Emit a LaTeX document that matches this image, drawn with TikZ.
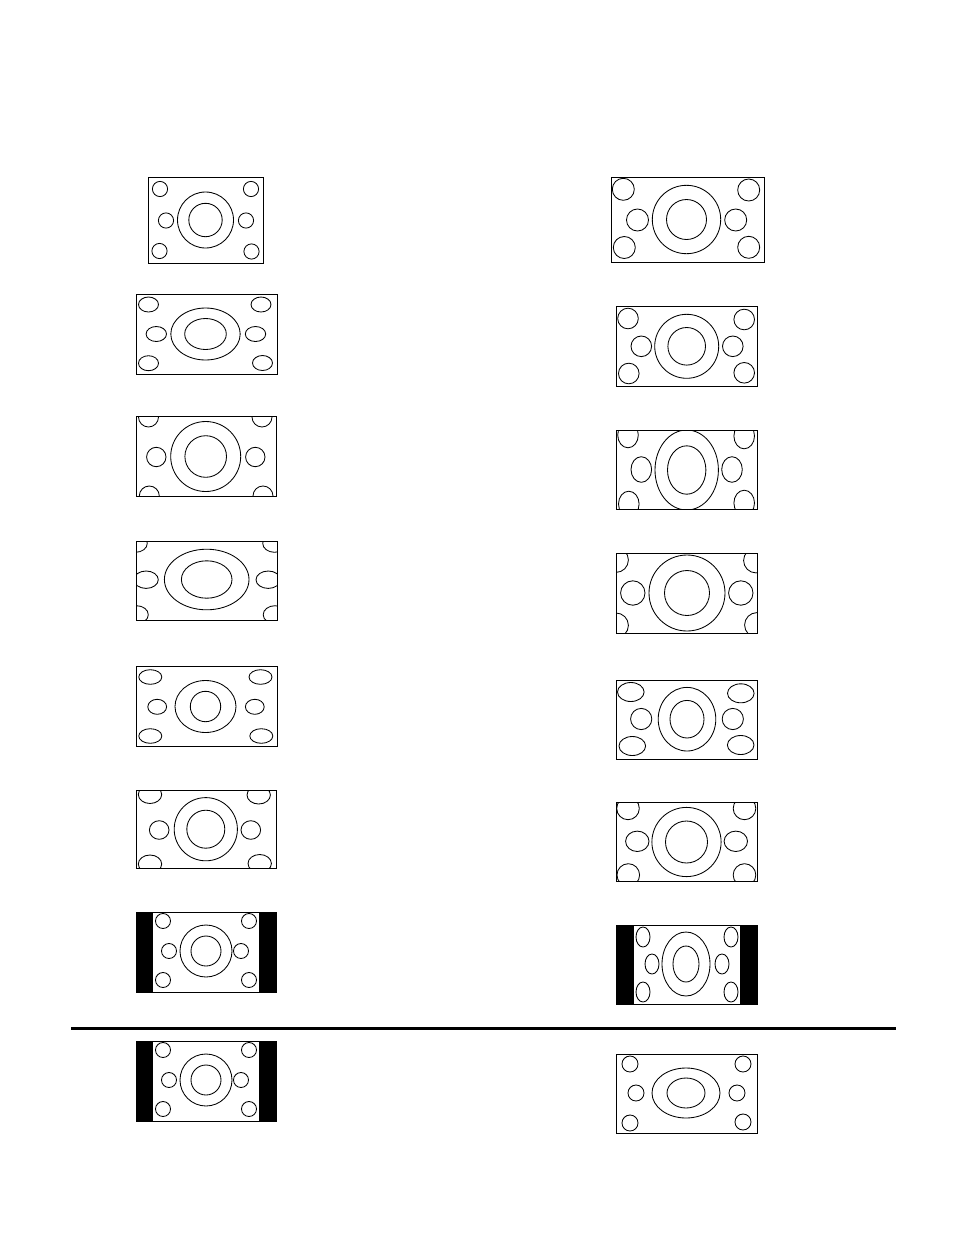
\documentclass[tikz,border=0pt]{standalone}
\begin{document}
\begin{tikzpicture}[x=1pt,y=-1pt,
  frame/.style={draw=black,line width=1pt},
  el/.style={draw=black,line width=0.85pt},
  bar/.style={fill=black,draw=none}]
\useasboundingbox[fill=white] (0,0) rectangle (954,1235);

% ---------- L1
\begin{scope}
\clip (148,177) rectangle (263,263);
\draw[el] (205.5,220) circle [radius=28pt];
\draw[el] (205.5,220) circle [radius=16.7pt];
\foreach \p in {(160,189),(251,189),(166,220.5),(246,220.5),(159.5,251),(251.5,251.5)}
  \draw[el] \p circle [radius=7.6pt];
\end{scope}
\draw[frame] (148,177) rectangle (263,263);

% ---------- R1
\begin{scope}
\clip (611,177) rectangle (764,262);
\draw[el] (686.5,219.5) circle [radius=34.2pt];
\draw[el] (686.5,219.5) circle [radius=20pt];
\foreach \p in {(623.3,189.3),(748.7,190),(637.5,220),(735.7,220),(624.3,247.5),(748.7,247.3)}
  \draw[el] \p circle [radius=11pt];
\end{scope}
\draw[frame] (611,177) rectangle (764,262);

% ---------- L2
\begin{scope}
\clip (136,294) rectangle (277,374);
\draw[el] (205.5,334) ellipse [x radius=34.7pt,y radius=26pt];
\draw[el] (205.5,334) ellipse [x radius=20.8pt,y radius=15.5pt];
\foreach \p in {(148.5,304.5),(261,304.5),(148.5,363.2),(262.5,363)}
  \draw[el] \p ellipse [x radius=10pt,y radius=7.5pt];
\foreach \p in {(156.3,334),(255.5,334)}
  \draw[el] \p ellipse [x radius=10.2pt,y radius=7.5pt];
\end{scope}
\draw[frame] (136,294) rectangle (277,374);

% ---------- R2
\begin{scope}
\clip (616,306) rectangle (757,386);
\draw[el] (686.7,346.3) circle [radius=32pt];
\draw[el] (686.7,346.3) circle [radius=18.8pt];
\foreach \p in {(628,318.5),(744.2,319.5),(641.3,346.3),(732.8,346.3),(628.8,373.5),(744.2,372.8)}
  \draw[el] \p circle [radius=10.3pt];
\end{scope}
\draw[frame] (616,306) rectangle (757,386);

% ---------- L3
\begin{scope}
\clip (136,416) rectangle (276,496);
\draw[el] (205.7,456.5) circle [radius=35pt];
\draw[el] (205.7,456.5) circle [radius=20.8pt];
\foreach \p in {(148.5,417),(262,417),(149.3,496),(263,496)}
  \draw[el] \p circle [radius=10pt];
\foreach \p in {(156.3,457),(255.3,457)}
  \draw[el] \p circle [radius=9.7pt];
\end{scope}
\draw[frame] (136,416) rectangle (276,496);

% ---------- R3
\begin{scope}
\clip (616,430) rectangle (757,509.5);
\draw[el] (686.7,470) ellipse [x radius=31.7pt,y radius=40pt];
\draw[el] (686.7,470) ellipse [x radius=19.2pt,y radius=24.2pt];
\foreach \p in {(641.3,469.5),(732,469.5),(628,435),(744.2,436),(628.8,504),(744.2,503)}
  \draw[el] \p ellipse [x radius=10.3pt,y radius=12.8pt];
\end{scope}
\draw[frame] (616,430) rectangle (757,509.5);

% ---------- L4
\begin{scope}
\clip (136,541) rectangle (277,620.5);
\draw[el] (206.7,579.5) ellipse [x radius=42.3pt,y radius=30.3pt];
\draw[el] (206.7,579.5) ellipse [x radius=25.3pt,y radius=18.7pt];
\foreach \p in {(146.1,579.7),(268.2,579.7)}
  \draw[el] \p ellipse [x radius=12.2pt,y radius=8.7pt];
\foreach \p in {(135.5,543.3),(274.5,543.3),(136.5,614.7),(275,614.7)}
  \draw[el] \p ellipse [x radius=11.8pt,y radius=9pt];
\end{scope}
\draw[frame] (136,541) rectangle (277,620.5);

% ---------- R4
\begin{scope}
\clip (616,553) rectangle (757,633.5);
\draw[el] (687,593) circle [radius=38pt];
\draw[el] (687,593) circle [radius=22.5pt];
\foreach \p in {(632.8,593),(740.8,593)}
  \draw[el] \p circle [radius=12.2pt];
\foreach \p in {(616,560),(756,560.5),(616,625.4),(757,625)}
  \draw[el] \p circle [radius=12.4pt];
\end{scope}
\draw[frame] (616,553) rectangle (757,633.5);

% ---------- L5
\begin{scope}
\clip (136,666) rectangle (277,746);
\draw[el] (205.5,706.5) ellipse [x radius=30.5pt,y radius=26pt];
\draw[el] (205.5,706.5) circle [radius=15.2pt];
\foreach \p in {(150.3,677),(260.5,677),(150.3,736),(261.3,736)}
  \draw[el] \p ellipse [x radius=11.5pt,y radius=7.3pt];
\foreach \p in {(157.2,706.8),(254.8,706.8)}
  \draw[el] \p ellipse [x radius=9.4pt,y radius=7.5pt];
\end{scope}
\draw[frame] (136,666) rectangle (277,746);

% ---------- R5
\begin{scope}
\clip (616,680) rectangle (757,759.5);
\draw[el] (687,719.2) ellipse [x radius=28.8pt,y radius=31.8pt];
\draw[el] (687,719.2) ellipse [x radius=17pt,y radius=18.8pt];
\foreach \p in {(630.8,692),(740.8,693.3),(632.3,746),(740.7,745)}
  \draw[el] \p ellipse [x radius=13.3pt,y radius=9.5pt];
\foreach \p in {(641.2,719),(732.8,719)}
  \draw[el] \p circle [radius=10.6pt];
\end{scope}
\draw[frame] (616,680) rectangle (757,759.5);

% ---------- L6
\begin{scope}
\clip (136,790) rectangle (276,868);
\draw[el] (205.8,829.2) circle [radius=31.6pt];
\draw[el] (205.8,829.2) circle [radius=19pt];
\foreach \p in {(159.2,830),(250.8,830)}
  \draw[el] \p ellipse [x radius=9.8pt,y radius=9.3pt];
\foreach \p in {(150,794.5),(258.7,795),(150,864),(259.7,863.5)}
  \draw[el] \p ellipse [x radius=11.7pt,y radius=9pt];
\end{scope}
\draw[frame] (136,790) rectangle (276,868);

% ---------- R6
\begin{scope}
\clip (616,802) rectangle (757,881.5);
\draw[el] (686.5,842) circle [radius=34.6pt];
\draw[el] (686.5,842) circle [radius=21pt];
\foreach \p in {(637.3,841.3),(735.8,841.3)}
  \draw[el] \p ellipse [x radius=11.7pt,y radius=10.2pt];
\foreach \p in {(628,808.4),(744.5,808.4),(628.3,875),(744.5,875)}
  \draw[el] \p circle [radius=11.3pt];
\end{scope}
\draw[frame] (616,802) rectangle (757,881.5);

% ---------- L7
\fill[bar] (136,912) rectangle (153,992);
\fill[bar] (259,912) rectangle (276,992);
\draw[el] (206,951) circle [radius=26pt];
\draw[el] (206,951) circle [radius=15pt];
\foreach \p in {(163,921),(249,921),(169,951),(241,951),(163,980),(249,980)}
  \draw[el] \p circle [radius=7.5pt];
\draw[frame] (136,912) rectangle (276,992);

% ---------- R7
\fill[bar] (616,925) rectangle (634,1004);
\fill[bar] (740,925) rectangle (757,1004);
\draw[el] (686,964) ellipse [x radius=24pt,y radius=32pt];
\draw[el] (686,964) ellipse [x radius=13pt,y radius=18pt];
\foreach \p in {(643,937),(731,937),(652,964),(722,964),(643,992),(731,992)}
  \draw[el] \p ellipse [x radius=7pt,y radius=10pt];
\draw[frame] (616,925) rectangle (757,1004);

% ---------- separator
\draw[line width=3pt] (71,1028) -- (896,1028);

% ---------- L8
\fill[bar] (136,1041) rectangle (153,1121);
\fill[bar] (259,1041) rectangle (276,1121);
\draw[el] (206,1080) circle [radius=26pt];
\draw[el] (206,1080) circle [radius=15pt];
\foreach \p in {(163,1050),(249,1050),(169,1080),(241,1080),(163,1109),(249,1109)}
  \draw[el] \p circle [radius=7.5pt];
\draw[frame] (136,1041) rectangle (276,1121);

% ---------- R8
\draw[el] (686,1093) ellipse [x radius=34pt,y radius=25pt];
\draw[el] (686,1093) ellipse [x radius=19pt,y radius=15pt];
\foreach \p in {(630,1064),(743,1064),(636,1093),(737,1093),(630,1123),(743,1122)}
  \draw[el] \p circle [radius=8pt];
\draw[frame] (616,1054) rectangle (757,1133);
\end{tikzpicture}
\end{document}
